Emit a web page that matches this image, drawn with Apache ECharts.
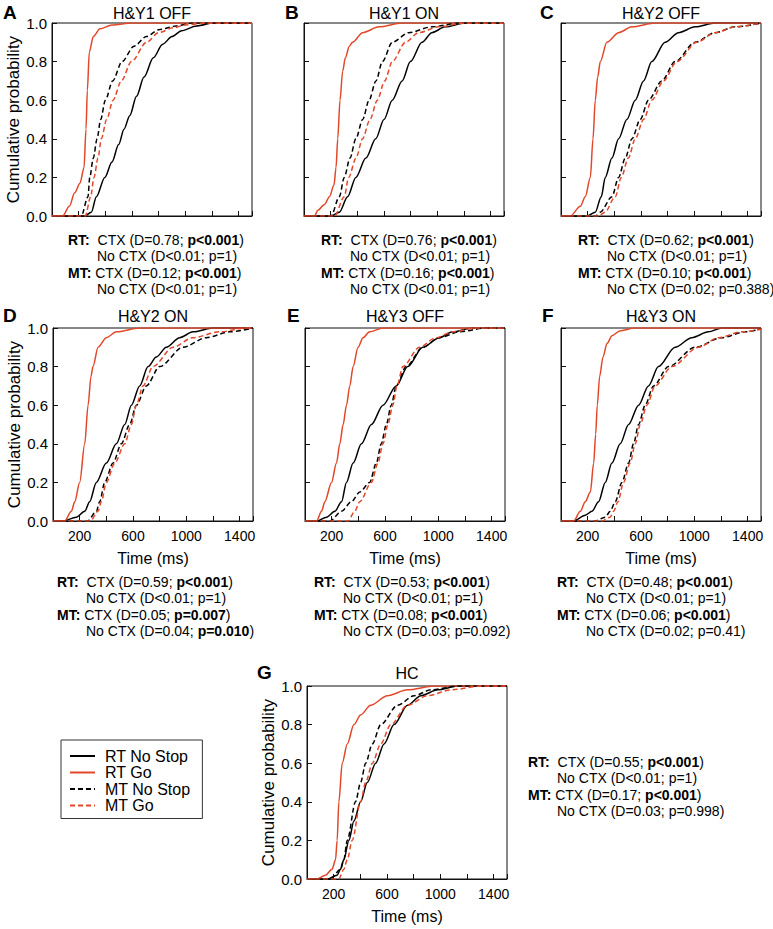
<!DOCTYPE html>
<html>
<head>
<meta charset="utf-8">
<script src="https://cdn.jsdelivr.net/npm/echarts@6/dist/echarts.min.js"></script>
<style>
html,body{margin:0;padding:0;background:#fff;}
#chart{width:773px;height:929px;}
</style>
</head>
<body>
<div id="chart"></div>
<script>
// ---------- DATA (time ms, cumulative probability) ----------
const seriesNames = ['RT No Stop', 'RT Go', 'MT No Stop', 'MT Go'];
const panelLetters = ['A', 'B', 'C', 'D', 'E', 'F', 'G'];
const panelTitles = ['H&Y1 OFF', 'H&Y1 ON', 'H&Y2 OFF', 'H&Y2 ON', 'H&Y3 OFF', 'H&Y3 ON', 'HC'];
const xTickLabels = [200, 600, 1000, 1400];
const yTickValues = [0, 0.2, 0.4, 0.6, 0.8, 1.0];

const A_rtNoStop = [[0,0],[245,0],[295,0.02],[333,0.1],[396,0.2],[450,0.28],[500,0.37],[540,0.45],[583,0.52],[634,0.62],[690,0.72],[760,0.82],[830,0.89],[900,0.93],[972,0.96],[1084,0.985],[1210,1],[1500,1]];
const A_rtGo = [[0,0],[80,0],[130,0.05],[170,0.12],[210,0.17],[240,0.25],[255,0.45],[265,0.65],[280,0.85],[310,0.93],[360,0.97],[450,0.99],[600,1],[1500,1]];
const A_mtNoStop = [[0,0],[220,0],[270,0.1],[283,0.2],[310,0.3],[338,0.4],[365,0.5],[400,0.6],[455,0.7],[525,0.8],[615,0.88],[709,0.93],[800,0.965],[934,0.985],[1050,1],[1500,1]];
const A_mtGo = [[0,0],[250,0],[290,0.1],[315,0.2],[345,0.3],[370,0.4],[410,0.5],[458,0.6],[520,0.7],[596,0.8],[709,0.9],[800,0.95],[909,0.975],[1000,0.99],[1160,1],[1500,1]];

const B_rtNoStop = [[0,0],[203,0],[265,0.02],[327,0.1],[389,0.2],[464,0.3],[538,0.4],[600,0.5],[662,0.6],[736,0.7],[798,0.8],[885,0.9],[959,0.95],[1059,0.98],[1207,1],[1500,1]];
const B_rtGo = [[0,0],[79,0],[104,0.03],[154,0.06],[191,0.1],[225,0.16],[240,0.25],[253,0.4],[270,0.6],[290,0.75],[310,0.82],[340,0.88],[364,0.9],[439,0.95],[563,0.98],[736,1],[1500,1]];
const B_mtNoStop = [[0,0],[203,0],[265,0.1],[302,0.2],[345,0.3],[389,0.4],[440,0.5],[488,0.6],[540,0.7],[588,0.8],[662,0.9],[786,0.95],[959,0.98],[1158,1],[1500,1]];
const B_mtGo = [[0,0],[230,0],[302,0.1],[335,0.2],[390,0.3],[439,0.4],[495,0.5],[550,0.6],[605,0.7],[662,0.8],[761,0.9],[860,0.95],[1009,0.98],[1207,1],[1500,1]];

const C_rtNoStop = [[0,0],[195,0],[257,0.02],[302,0.1],[332,0.2],[382,0.3],[432,0.4],[494,0.5],[557,0.6],[619,0.7],[681,0.8],[781,0.9],[881,0.95],[1006,0.98],[1156,1],[1500,1]];
const C_rtGo = [[0,0],[70,0],[145,0.05],[182,0.1],[220,0.2],[240,0.4],[257,0.6],[275,0.72],[295,0.8],[344,0.9],[432,0.95],[532,0.98],[706,1],[1500,1]];
const C_mtNoStop = [[0,0],[260,0],[295,0.02],[382,0.1],[432,0.2],[482,0.3],[532,0.4],[594,0.5],[656,0.6],[756,0.7],[856,0.8],[1006,0.9],[1156,0.95],[1305,0.98],[1500,1]];
const C_mtGo = [[0,0],[280,0],[330,0.02],[407,0.1],[452,0.2],[505,0.3],[557,0.4],[619,0.5],[681,0.6],[769,0.7],[869,0.8],[1018,0.9],[1156,0.95],[1305,0.98],[1500,1]];

const D_rtNoStop = [[0,0],[75,0],[175,0.02],[238,0.05],[275,0.1],[325,0.2],[400,0.3],[475,0.4],[538,0.5],[588,0.6],[650,0.7],[713,0.8],[775,0.85],[850,0.9],[950,0.95],[1050,0.98],[1200,1],[1500,1]];
const D_rtGo = [[0,0],[88,0],[138,0.05],[163,0.1],[200,0.2],[238,0.4],[263,0.6],[285,0.75],[300,0.8],[338,0.9],[400,0.95],[475,0.98],[650,1],[1500,1]];
const D_mtNoStop = [[0,0],[260,0],[325,0.05],[350,0.1],[388,0.2],[450,0.3],[513,0.4],[575,0.5],[625,0.6],[700,0.7],[800,0.8],[975,0.9],[1150,0.95],[1325,0.98],[1500,1]];
const D_mtGo = [[0,0],[280,0],[338,0.05],[363,0.1],[400,0.2],[463,0.3],[538,0.4],[588,0.5],[625,0.6],[675,0.7],[750,0.8],[900,0.9],[1050,0.95],[1250,0.98],[1450,1],[1500,1]];

const E_rtNoStop = [[0,0],[87,0],[162,0.02],[224,0.05],[274,0.1],[311,0.2],[361,0.3],[423,0.4],[498,0.5],[585,0.6],[684,0.7],[771,0.8],[883,0.9],[1008,0.95],[1107,0.98],[1256,1],[1500,1]];
const E_rtGo = [[0,0],[87,0],[124,0.05],[149,0.1],[199,0.2],[236,0.3],[261,0.4],[286,0.5],[311,0.6],[336,0.7],[361,0.8],[398,0.9],[435,0.95],[485,0.98],[585,1],[1500,1]];
const E_mtNoStop = [[0,0],[187,0],[274,0.05],[348,0.1],[411,0.15],[485,0.2],[535,0.3],[572,0.4],[610,0.5],[647,0.6],[684,0.7],[759,0.8],[883,0.9],[1008,0.95],[1157,0.98],[1356,1],[1500,1]];
const E_mtGo = [[0,0],[323,0],[373,0.05],[411,0.1],[498,0.2],[547,0.3],[585,0.4],[622,0.5],[659,0.6],[690,0.7],[734,0.8],[858,0.9],[983,0.95],[1107,0.98],[1281,1],[1500,1]];

const F_rtNoStop = [[0,0],[95,0],[182,0.03],[232,0.05],[282,0.1],[332,0.2],[382,0.3],[444,0.4],[507,0.5],[582,0.6],[656,0.7],[731,0.8],[856,0.9],[981,0.95],[1106,0.98],[1206,1],[1500,1]];
const F_rtGo = [[0,0],[95,0],[145,0.05],[182,0.1],[220,0.15],[245,0.3],[260,0.45],[272,0.6],[290,0.75],[315,0.85],[345,0.92],[383,0.96],[440,0.985],[550,1],[1500,1]];
const F_mtNoStop = [[0,0],[257,0],[332,0.02],[369,0.05],[407,0.1],[457,0.2],[507,0.3],[544,0.4],[582,0.5],[631,0.6],[694,0.7],[806,0.8],[1006,0.9],[1206,0.95],[1380,0.98],[1500,0.995]];
const F_mtGo = [[0,0],[307,0],[369,0.02],[394,0.05],[427,0.1],[469,0.2],[519,0.3],[557,0.4],[594,0.5],[644,0.6],[706,0.7],[831,0.8],[1031,0.9],[1181,0.95],[1356,0.98],[1500,0.993]];

const G_rtNoStop = [[0,0],[151,0],[226,0.02],[251,0.05],[276,0.1],[314,0.2],[352,0.3],[402,0.4],[452,0.5],[515,0.6],[578,0.7],[653,0.8],[754,0.9],[854,0.95],[980,0.98],[1131,1],[1500,1]];
const G_rtGo = [[0,0],[75,0],[138,0.02],[188,0.05],[214,0.1],[226,0.2],[239,0.4],[264,0.6],[302,0.7],[352,0.8],[402,0.85],[477,0.9],[603,0.95],[754,0.98],[955,1],[1500,1]];
const G_mtNoStop = [[0,0],[176,0],[251,0.05],[276,0.1],[302,0.2],[364,0.4],[402,0.5],[440,0.6],[490,0.7],[553,0.8],[679,0.9],[804,0.95],[930,0.98],[1131,1],[1500,1]];
const G_mtGo = [[0,0],[239,0],[276,0.05],[302,0.1],[339,0.2],[402,0.4],[440,0.5],[490,0.6],[553,0.7],[628,0.8],[754,0.9],[905,0.95],[1081,0.98],[1307,1],[1500,1]];

const panelData = [
  [A_rtNoStop, A_rtGo, A_mtNoStop, A_mtGo],
  [B_rtNoStop, B_rtGo, B_mtNoStop, B_mtGo],
  [C_rtNoStop, C_rtGo, C_mtNoStop, C_mtGo],
  [D_rtNoStop, D_rtGo, D_mtNoStop, D_mtGo],
  [E_rtNoStop, E_rtGo, E_mtNoStop, E_mtGo],
  [F_rtNoStop, F_rtGo, F_mtNoStop, F_mtGo],
  [G_rtNoStop, G_rtGo, G_mtNoStop, G_mtGo]
];

// statistics text: [RT CTX D, RT CTX p, RT NoCTX D, RT NoCTX p, MT CTX D, MT CTX p, MT NoCTX D, MT NoCTX p]
const A_stats = ['D=0.78', 'p<0.001', 'D<0.01', 'p=1', 'D=0.12', 'p<0.001', 'D<0.01', 'p=1'];
const B_stats = ['D=0.76', 'p<0.001', 'D<0.01', 'p=1', 'D=0.16', 'p<0.001', 'D<0.01', 'p=1'];
const C_stats = ['D=0.62', 'p<0.001', 'D<0.01', 'p=1', 'D=0.10', 'p<0.001', 'D=0.02', 'p=0.388'];
const D_stats = ['D=0.59', 'p<0.001', 'D<0.01', 'p=1', 'D=0.05', 'p=0.007', 'D=0.04', 'p=0.010'];
const E_stats = ['D=0.53', 'p<0.001', 'D<0.01', 'p=1', 'D=0.08', 'p<0.001', 'D=0.03', 'p=0.092'];
const F_stats = ['D=0.48', 'p<0.001', 'D<0.01', 'p=1', 'D=0.06', 'p<0.001', 'D=0.02', 'p=0.41'];
const G_stats = ['D=0.55', 'p<0.001', 'D<0.01', 'p=1', 'D=0.17', 'p<0.001', 'D=0.03', 'p=0.998'];
const panelStats = [A_stats, B_stats, C_stats, D_stats, E_stats, F_stats, G_stats];
const significant = (p) => p === 'p<0.001' || p === 'p=0.007' || p === 'p=0.010';

// ---------- LAYOUT ----------
const FONT = '"Liberation Sans", Arial, Helvetica, sans-serif';
const BLACK = '#000000';
const RED = '#e2472a';
const PW = 200, PH = 193;
const layout = [
  {left: 52,  top: 23,  ylab: true,  xlab: false, letterX: 3,   titleY: 13,  textX: 68,  textY: 240},
  {left: 304, top: 23,  ylab: false, xlab: false, letterX: 285, titleY: 13,  textX: 321, textY: 240},
  {left: 561, top: 23,  ylab: false, xlab: false, letterX: 540, titleY: 13,  textX: 578, textY: 240},
  {left: 53,  top: 328, ylab: true,  xlab: true,  letterX: 3,   titleY: 316, textX: 57,  textY: 582},
  {left: 305, top: 328, ylab: false, xlab: true,  letterX: 287, titleY: 316, textX: 314, textY: 582},
  {left: 561, top: 328, ylab: false, xlab: true,  letterX: 542, titleY: 316, textX: 557, textY: 582},
  {left: 307, top: 686, ylab: true,  xlab: true,  letterX: 257, titleY: 673, textX: 528, textY: 762}
];
const LINE_H = 16.3;

const grids = [], xAxes = [], yAxes = [], series = [], graphics = [];
const colors = [BLACK, RED, BLACK, RED];
const dashed = [false, false, true, true];

layout.forEach((L, i) => {
  grids.push({left: L.left, top: L.top, width: PW, height: PH, show: true,
    borderColor: '#111', borderWidth: 1, backgroundColor: 'transparent'});
  xAxes.push({
    gridIndex: i, type: 'value', min: 0, max: 1500, interval: 200,
    axisLine: {show: true, lineStyle: {color: '#111', width: 1}},
    axisTick: {show: true, inside: true, length: 5, lineStyle: {color: '#111'}},
    splitLine: {show: false},
    axisLabel: {show: L.xlab, color: '#000', fontFamily: FONT, fontSize: 14, margin: 8,
      formatter: v => (xTickLabels.indexOf(v) >= 0 ? String(v) : '')},
    name: L.xlab ? 'Time (ms)' : '', nameLocation: 'middle', nameGap: 29,
    nameTextStyle: {color: '#000', fontFamily: FONT, fontSize: 16}
  });
  yAxes.push({
    gridIndex: i, type: 'value', min: 0, max: 1, interval: 0.2,
    axisLine: {show: true, lineStyle: {color: '#111', width: 1}},
    axisTick: {show: true, inside: true, length: 5, lineStyle: {color: '#111'}},
    splitLine: {show: false},
    axisLabel: {show: L.ylab, color: '#000', fontFamily: FONT, fontSize: 15, margin: 5,
      formatter: v => (yTickValues.some(t => Math.abs(t - v) < 1e-9) ? v.toFixed(1) : '')},
    name: L.ylab ? 'Cumulative probability' : '', nameLocation: 'middle', nameGap: 30,
    nameTextStyle: {color: '#000', fontFamily: FONT, fontSize: 17}
  });
  panelData[i].forEach((d, k) => {
    series.push({
      name: seriesNames[k], type: 'line', xAxisIndex: i, yAxisIndex: i,
      data: d, showSymbol: false, symbol: 'none', smooth: 0.3, smoothMonotone: 'x',
      lineStyle: {color: colors[k], width: 1.5, type: dashed[k] ? [5, 3] : 'solid'},
      itemStyle: {color: colors[k]},
      z: 2 + k, silent: true, animation: false
    });
  });
  graphics.push({type: 'text', left: L.letterX, top: L.titleY - 10,
    style: {text: panelLetters[i], font: 'bold 19px ' + FONT, fill: '#000'}});
  graphics.push({type: 'text', x: L.left + PW / 2, y: L.titleY,
    style: {text: panelTitles[i], font: '16px ' + FONT, fill: '#000', textAlign: 'center', textVerticalAlign: 'middle'}});
  const s = panelStats[i];
  const fmtP = p => significant(p) ? '{b|' + p + '}' : p;
  const lines = [
    {x: 0,  t: '{b|RT:}  CTX (' + s[0] + '; ' + fmtP(s[1]) + ')'},
    {x: 29, t: 'No CTX (' + s[2] + '; ' + fmtP(s[3]) + ')'},
    {x: 0,  t: '{b|MT:} CTX (' + s[4] + '; ' + fmtP(s[5]) + ')'},
    {x: 29, t: 'No CTX (' + s[6] + '; ' + fmtP(s[7]) + ')'}
  ];
  lines.forEach((ln, j) => {
    graphics.push({type: 'text', x: L.textX + ln.x, y: L.textY + j * LINE_H,
      style: {text: ln.t, font: '14px ' + FONT, fill: '#000', textVerticalAlign: 'middle',
        rich: {b: {fontWeight: 'bold', fontSize: 14, fontFamily: FONT, fill: '#000'}}}});
  });
});

const chart = echarts.init(document.getElementById('chart'), null, {renderer: 'svg', width: 773, height: 929});
chart.setOption({
  animation: false,
  backgroundColor: '#ffffff',
  textStyle: {fontFamily: FONT},
  grid: grids, xAxis: xAxes, yAxis: yAxes, series: series,
  legend: {
    show: true, orient: 'vertical', left: 61, top: 740,
    data: seriesNames,
    borderColor: '#333', borderWidth: 1, padding: [8, 12, 5, 8],
    itemWidth: 25, itemHeight: 12, itemGap: 0.5,
    itemStyle: {opacity: 0, borderWidth: 0},
    textStyle: {fontFamily: FONT, fontSize: 16, color: '#000', lineHeight: 16, padding: [0, 0, 0, 5]},
    selectedMode: false
  },
  graphic: graphics
});
</script>
</body>
</html>
